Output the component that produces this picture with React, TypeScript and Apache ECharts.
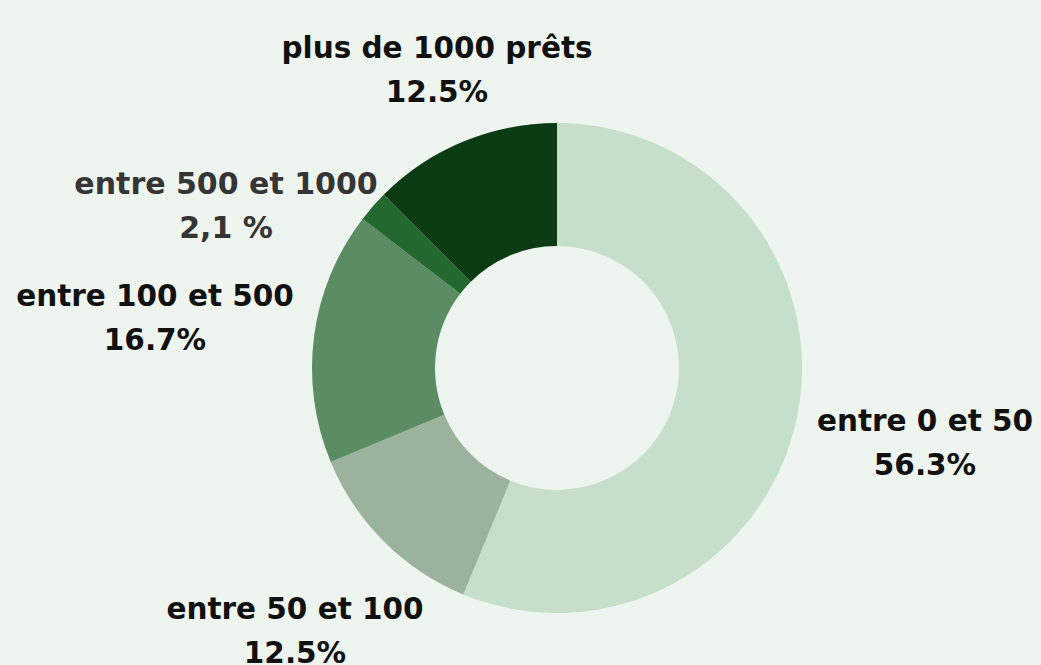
import React, { useEffect, useRef } from "react";
import * as echarts from "echarts";

const categories = [
  "entre 0 et 50",
  "entre 50 et 100",
  "entre 100 et 500",
  "entre 500 et 1000",
  "plus de 1000 prêts",
];
const values = [56.3, 12.5, 16.7, 2.1, 12.5];
const valueLabels = ["56.3%", "12.5%", "16.7%", "2,1 %", "12.5%"];
const colors = ["#c6dfca", "#9bb39c", "#5b8c63", "#23682f", "#0b3b12"];
// label centre positions (layout)
const labelPos: [number, number][] = [
  [925, 443],
  [295, 631],
  [155, 318],
  [226, 205],
  [437, 70],
];

export default function App() {
  const ref = useRef<HTMLDivElement>(null);
  useEffect(() => {
    if (!ref.current) return;
    const chart = echarts.init(ref.current, undefined, { renderer: "svg" });
    chart.setOption({
      animation: false,
      backgroundColor: "#eef4ee",
      series: [
        {
          type: "pie",
          center: [557, 368],
          radius: [122, 245],
          startAngle: 90,
          clockwise: true,
          avoidLabelOverlap: false,
          label: {
            show: true,
            position: "outside",
            fontFamily: "DejaVu Sans",
            fontWeight: "bold",
            fontSize: 29.5,
            lineHeight: 44,
            color: "#111111",
            align: "center",
            formatter: (p: any) => `${p.name}\n${valueLabels[p.dataIndex]}`,
          },
          labelLine: { show: false },
          labelLayout: (p: any) => ({
            x: labelPos[p.dataIndex][0],
            y: labelPos[p.dataIndex][1],
            align: "center",
            verticalAlign: "middle",
          }),
          data: categories.map((c, i) => ({
            name: c,
            value: values[i],
            itemStyle: { color: colors[i] },
            label:
              i === 3
                ? { fontWeight: 600, color: "#353535", fontSize: 30 }
                : undefined,
          })),
        },
      ],
    });
    return () => chart.dispose();
  }, []);
  return (
    <div
      ref={ref}
      style={{ position: "fixed", left: 0, top: 0, width: 1041, height: 665 }}
    />
  );
}
